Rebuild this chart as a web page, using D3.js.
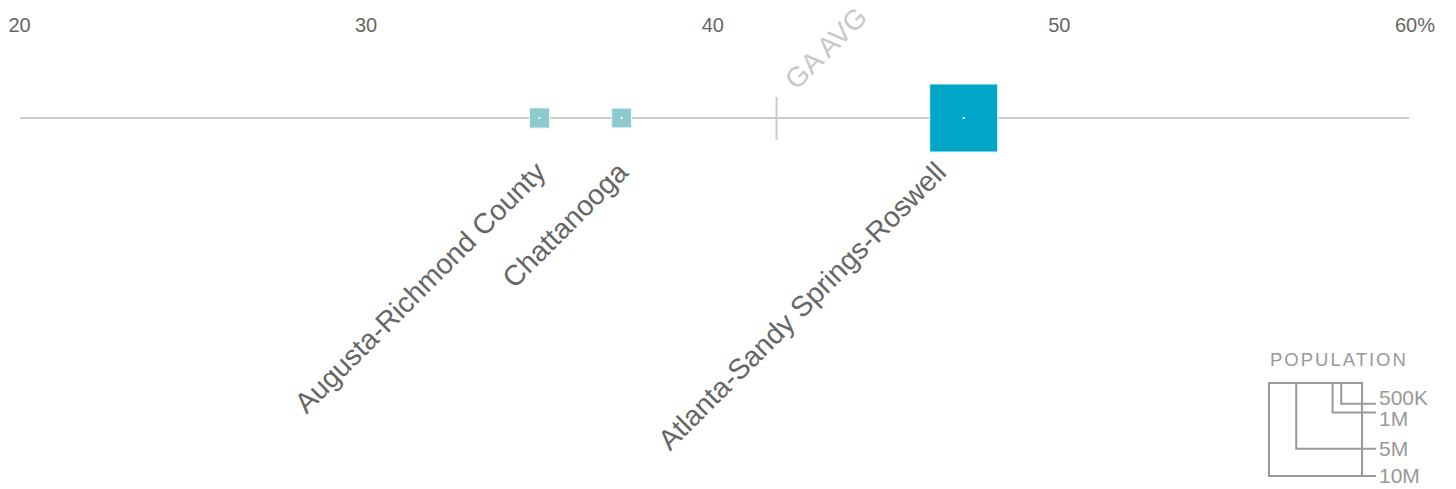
<!DOCTYPE html>
<html>
<head>
<meta charset="utf-8">
<script src="https://cdn.jsdelivr.net/npm/d3@7"></script>
<style>
  body { margin: 0; background: #fff; }
  text { font-family: "Liberation Sans", Arial, sans-serif; }
</style>
</head>
<body>
<script>
var width = 1456,
    height = 489;

// metro areas: share (%) and population
var cities = ["Augusta-Richmond County", "Chattanooga", "Atlanta-Sandy Springs-Roswell"];
var values = [35.0, 37.37, 47.24];
var populations = [470000, 450000, 5350000];

var gaAvg = 41.84;
var tickValues = [20, 30, 40, 50, 60];
var legendPops = [500000, 1000000, 5000000, 10000000];
var legendLabels = ["500K", "1M", "5M", "10M"];

const svg = d3.select("body")
    .append("svg")
    .attr("width", width)
    .attr("height", height);

var x = d3.scaleLinear()
    .domain([20, 60])
    .range([19.5, 1406]);

var size = d3.scaleSqrt()
    .domain([0, 10000000])
    .range([0, 93]);

var color = d3.scaleThreshold()
    .domain([1000000])
    .range(["#8ccacd", "#00a6c8"]);

var axisY = 118;

// tick labels
var ticks = svg.append("g").attr("class", "ticks");
ticks.selectAll("text")
    .data(tickValues)
    .enter().append("text")
    .attr("x", function (d) { return x(d); })
    .attr("y", 32)
    .attr("text-anchor", "middle")
    .attr("font-size", 20)
    .attr("fill", "#666")
    .text(function (d) { return d; });

// the percent sign hangs off the last tick
var lastTick = ticks.selectAll("text").filter(function (d, i) { return i === tickValues.length - 1; });
var lastW = lastTick.node().getComputedTextLength();
ticks.append("text")
    .attr("x", x(tickValues[tickValues.length - 1]) + lastW / 2)
    .attr("y", 32)
    .attr("font-size", 20)
    .attr("fill", "#666")
    .text("%");

// axis line
svg.append("line")
    .attr("x1", x(20) + 0.5)
    .attr("x2", x(60) + 3)
    .attr("y1", axisY)
    .attr("y2", axisY)
    .attr("stroke", "#cccccc")
    .attr("stroke-width", 2);

// GA average marker
svg.append("line")
    .attr("x1", x(gaAvg))
    .attr("x2", x(gaAvg))
    .attr("y1", axisY - 21)
    .attr("y2", axisY + 22)
    .attr("stroke", "#cccccc")
    .attr("stroke-width", 2);

svg.append("text")
    .attr("transform", "translate(" + (x(gaAvg) + 20) + "," + (axisY - 27) + ") rotate(-45)")
    .attr("font-size", 28)
    .attr("fill", "#c8c8c8")
    .text("GA AVG");

var data = cities.map(function (c, i) {
    return { name: c, value: values[i], pop: populations[i] };
});

// squares
var marks = svg.append("g").selectAll("g")
    .data(data)
    .enter().append("g");

marks.append("rect")
    .attr("x", function (d) { return x(d.value) - size(d.pop) / 2; })
    .attr("y", function (d) { return axisY - size(d.pop) / 2; })
    .attr("width", function (d) { return size(d.pop); })
    .attr("height", function (d) { return size(d.pop); })
    .attr("fill", function (d) { return color(d.pop); })
    .attr("stroke", "#eef8fa")
    .attr("stroke-width", 1);

marks.append("rect")
    .attr("x", function (d) { return x(d.value) - 1; })
    .attr("y", axisY - 1)
    .attr("width", 2)
    .attr("height", 2)
    .attr("fill", "#fff");

marks.append("text")
    .attr("transform", function (d) {
        return "translate(" + (x(d.value) - size(d.pop) / 2 + 18) + "," + (axisY + 56) + ") rotate(-45)";
    })
    .attr("text-anchor", "end")
    .attr("font-size", 28.5)
    .attr("fill", "#666")
    .text(function (d) { return d.name; });

// population legend
var legend = svg.append("g").attr("class", "legend");
var lRight = 1362, lTop = 383;

legend.append("text")
    .attr("x", 1270)
    .attr("y", 366)
    .attr("font-size", 18.5)
    .attr("letter-spacing", 2)
    .attr("fill", "#999")
    .text("POPULATION");

legend.selectAll("path")
    .data(legendPops)
    .enter().append("path")
    .attr("d", function (d) {
        var s = size(d);
        return "M" + (lRight + 14) + "," + (lTop + s) +
            "H" + (lRight - s) + "V" + lTop + "H" + lRight + "V" + (lTop + s);
    })
    .attr("fill", "none")
    .attr("stroke", "#999")
    .attr("stroke-width", 2);

// spread labels that would collide
var ly = legendPops.map(function (d) { return lTop + size(d); });
for (var i = 1; i < ly.length; i++) {
    var gap = ly[i] - ly[i - 1];
    if (gap < 21) {
        var push = (21 - gap) / 2;
        ly[i - 1] -= push;
        ly[i] += push;
    }
}

legend.selectAll("text.lab")
    .data(legendLabels)
    .enter().append("text")
    .attr("class", "lab")
    .attr("x", 1379)
    .attr("y", function (d, i) { return ly[i]; })
    .attr("dy", "0.35em")
    .attr("font-size", 21)
    .attr("fill", "#999")
    .text(function (d) { return d; });
</script>
</body>
</html>
